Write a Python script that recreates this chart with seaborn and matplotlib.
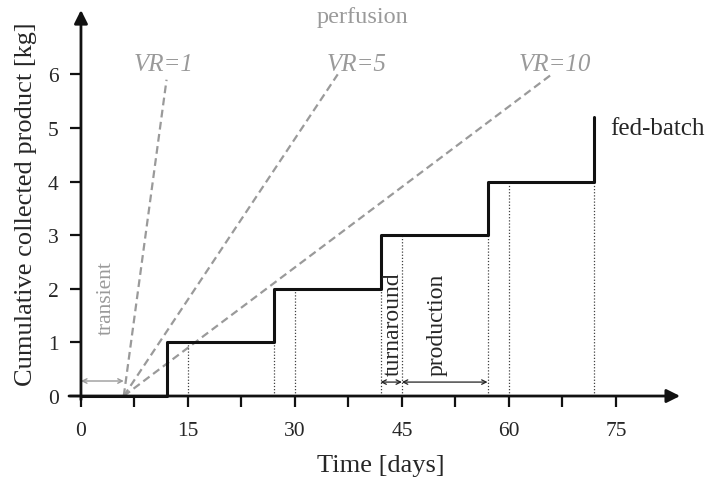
import matplotlib
matplotlib.use("Agg")
import matplotlib.pyplot as plt
import numpy as np
import pandas as pd
import seaborn as sns

# fed-batch: harvest days and cumulative product after each harvest
harvest_days = [0, 12, 27, 42, 57, 72]
cum_product = [0, 1, 2, 3, 4, 5.2]
# start of production phase (after 3-day turnaround) and levels for dotted guides
production_start = [15, 30, 45, 60]
guide_levels = [1, 2, 3, 4]
harvest_guides = [27, 42, 57, 72]

# perfusion lines from end of transient
transient_end = 6
vr_labels = ["VR=1", "VR=5", "VR=10"]
vr_end_day = [12, 36, 66]
vr_end_kg = [5.9, 6.0, 6.0]
vr_label_day = [11.6, 38.7, 66.5]

x_ticks = np.arange(0, 76, 7.5)
x_ticklabels = ["0", "", "15", "", "30", "", "45", "", "60", "", "75"]
y_ticks = [0, 1, 2, 3, 4, 5, 6]

GRAY = "#9a9a9a"

sns.set_style("ticks")
plt.rcParams["font.family"] = ["Liberation Serif", "DejaVu Serif"]

fig = plt.figure(figsize=(7.09, 4.81), dpi=100)
ax = fig.add_axes([0.1142, 0.1746, 0.845, 0.8025])

# perfusion lines
for lab, xe, ye in zip(vr_labels, vr_end_day, vr_end_kg):
    df = pd.DataFrame({"t": [transient_end, xe], "m": [0, ye]})
    sns.lineplot(data=df, x="t", y="m", ax=ax, color=GRAY, lw=1.6,
                 linestyle=(0, (3.5, 2)), sort=False)
for lab, xl in zip(vr_labels, vr_label_day):
    ax.text(xl, 6.2, lab, color=GRAY, style="italic", fontsize=18,
            ha="center", va="center")
ax.text(39.5, 7.08, "perfusion", color=GRAY, fontsize=17.5, ha="center", va="center",
        clip_on=False)

# dotted guides
ax.vlines(production_start, 0, guide_levels, colors="0.25", linestyles=(0, (1, 1.5)), lw=0.9)
ax.vlines(harvest_guides, 0, guide_levels, colors="0.25", linestyles=(0, (1, 1.5)), lw=0.9)

# fed-batch step curve
fb = pd.DataFrame({"t": harvest_days, "m": cum_product})
sns.lineplot(data=fb, x="t", y="m", ax=ax, color="#111111", lw=2.2,
             drawstyle="steps-post", clip_on=False)
ax.text(74.2, 5.0, "fed-batch", fontsize=18, ha="left", va="center", clip_on=False)

# transient / turnaround / production arrows
arr = dict(arrowstyle="<->", color=GRAY, lw=1, shrinkA=0, shrinkB=0, mutation_scale=8)
ax.annotate("", xy=(0, 0.28), xytext=(transient_end, 0.28), arrowprops=arr)
ax.text(3.6, 1.85, "transient", color=GRAY, rotation=90, fontsize=15.5, ha="center", va="center")
arr_k = dict(arrowstyle="<->", color="#222222", lw=0.9, shrinkA=0, shrinkB=0, mutation_scale=8)
ax.annotate("", xy=(42, 0.26), xytext=(45, 0.26), arrowprops=arr_k)
ax.annotate("", xy=(45, 0.26), xytext=(57, 0.26), arrowprops=arr_k)
ax.text(43.8, 1.35, "turnaround", rotation=90, fontsize=17, ha="center", va="center")
ax.text(50.0, 1.35, "production", rotation=90, fontsize=17, ha="center", va="center")

# axes with arrows
ax.set_xlim(0, 84)
ax.set_ylim(0, 7.2)
for s in ax.spines.values():
    s.set_visible(False)
axarr = dict(arrowstyle="-|>", color="#111111", lw=2, shrinkA=0, shrinkB=0, mutation_scale=20)
ax.annotate("", xy=(1, 0), xytext=(-0.02, 0), xycoords="axes fraction",
            textcoords="axes fraction", arrowprops=axarr)
ax.annotate("", xy=(0, 1), xytext=(0, -0.01), xycoords="axes fraction",
            textcoords="axes fraction", arrowprops=axarr)

ax.set_xticks(x_ticks)
ax.set_xticklabels(x_ticklabels)
ax.set_yticks(y_ticks)
ax.tick_params(direction="out", length=8, width=1.6, labelsize=15.5, color="#111111")
ax.tick_params(axis="x", pad=10)
ax.tick_params(axis="y", pad=8)
ax.set_xlabel("Time [days]", fontsize=19, labelpad=10)
ax.set_ylabel("Cumulative collected product [kg]", fontsize=19, labelpad=8)

fig.savefig("out.png", dpi=100)
